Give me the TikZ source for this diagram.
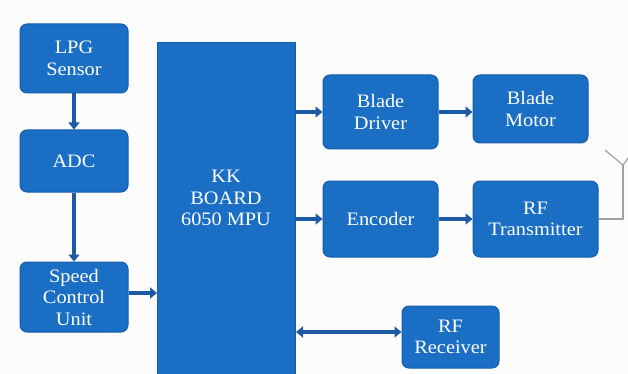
\documentclass[tikz,border=0pt]{standalone}
\usepackage{fontspec}
\setmainfont[FakeStretch=1.07]{Liberation Serif}
\usetikzlibrary{arrows.meta}
\definecolor{boxblue}{RGB}{26,110,196}
\definecolor{boxedge}{RGB}{22,92,170}
\definecolor{linkblue}{RGB}{28,90,165}
\definecolor{paper}{RGB}{252,252,252}
\definecolor{wire}{RGB}{160,160,160}
\tikzset{
  blocktext/.style={text=white, align=center,
    font=\fontsize{19}{21.5}\selectfont},
  block/.style={blocktext, draw=boxedge, line width=1pt, fill=boxblue,
    rounded corners=7pt, inner sep=0pt},
  link/.style={draw=linkblue, line width=4.5pt,
    -{Triangle[length=7pt,width=11pt]}},
  dlink/.style={draw=linkblue, line width=4.5pt,
    {Triangle[length=7pt,width=11pt]}-{Triangle[length=7pt,width=11pt]}},
  antenna/.style={draw=wire, line width=1.2pt}
}
\begin{document}
\begin{tikzpicture}[x=1pt,y=-1pt]
  \fill[paper] (0,0) rectangle (628,374);
  \useasboundingbox (0,0) rectangle (628,374);
  % left column
  \node[block, minimum width=108pt, minimum height=69pt] (lpg) at (74,58.5) {LPG\\Sensor};
  \node[block, minimum width=108pt, minimum height=62pt] (adc) at (74,161) {ADC};
  \node[block, minimum width=108pt, minimum height=70pt] (scu) at (74,297) {Speed\\Control\\Unit};
  % controller board (runs past the lower edge)
  \begin{scope}
    \clip (0,0) rectangle (628,374);
    \node[block, rounded corners=0pt, minimum width=138pt, minimum height=344pt, anchor=north west] (kk) at (157,42) {};
  \end{scope}
  \node[blocktext] (kklabel) at (226,198) {KK\\BOARD\\6050 MPU};
  % right side
  \node[block, minimum width=115pt, minimum height=74pt] (bd) at (380.5,112) {Blade\\Driver};
  \node[block, minimum width=115pt, minimum height=68pt] (bm) at (530.5,109) {Blade\\Motor};
  \node[block, minimum width=115pt, minimum height=76pt] (enc) at (380.5,219) {Encoder};
  \node[block, minimum width=125pt, minimum height=76pt] (rft) at (535.5,219) {RF\\Transmitter};
  \node[block, minimum width=97pt, minimum height=62pt] (rfr) at (450.5,337) {RF\\Receiver};
  % connectors
  \draw[link] (lpg.south) -- (adc.north);
  \draw[link] (adc.south) -- (scu.north);
  \draw[link] (scu.east |- 0,293) -- (kk.west |- 0,293);
  \draw[link] (kk.east |- bd.west) -- (bd.west);
  \draw[link] (bd.east) -- (bm.west |- bd.east);
  \draw[link] (kk.east |- enc.west) -- (enc.west);
  \draw[link] (enc.east) -- (rft.west);
  \draw[dlink] (kk.east |- 0,332) -- (rfr.west |- 0,332);
  % antenna of the transmitter
  \coordinate (mast) at (623,165);
  \coordinate (armL) at (605,150);
  \coordinate (armR) at (634,150);
  \begin{scope}
    \clip (0,0) rectangle (628,374);
    \draw[antenna] (rft.east |- 0,219) -| (mast);
    \draw[antenna] (armL) -- (mast) -- (armR);
  \end{scope}
\end{tikzpicture}
\end{document}
